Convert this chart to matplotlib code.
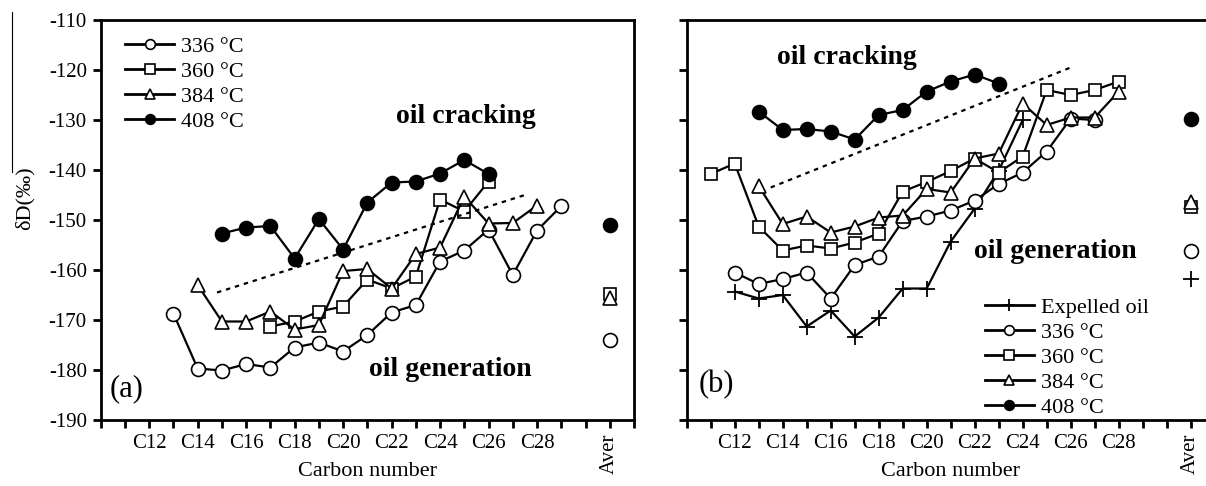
import matplotlib.pyplot as plt
from matplotlib.lines import Line2D
import numpy as np

plt.rcParams['font.family'] = ['Liberation Serif', 'DejaVu Serif']
plt.rcParams['axes.unicode_minus'] = False

# (a) pyrolysis residues
a_c336 = np.arange(13, 30)
a_v336 = [-168.7, -179.7, -180.1, -178.8, -179.5, -175.5, -174.5, -176.3, -173.0,
          -168.5, -167.0, -158.3, -156.1, -151.9, -161.0, -152.1, -147.2]
a_c360 = np.arange(17, 27)
a_v360 = [-171.3, -170.3, -168.3, -167.3, -161.9, -163.7, -161.3, -145.9, -148.3, -142.3]
a_c384 = np.arange(14, 29)
a_v384 = [-163.0, -170.3, -170.3, -168.3, -171.9, -171.0, -160.2, -159.8, -163.7,
          -156.8, -155.5, -145.3, -150.7, -150.6, -147.1]
a_c408 = np.arange(15, 27)
a_v408 = [-152.7, -151.5, -151.2, -157.7, -149.8, -155.9, -146.5, -142.5, -142.3,
          -140.7, -138.0, -140.8]
a_aver = {"336": -174.0, "360": -164.7, "384": -165.6, "408": -151.0}
a_trend_c = [14.8, 27.5]
a_trend_v = [-164.5, -145.0]

# (b) expelled oil
b_cexp = np.arange(12, 25)
b_vexp = [-164.3, -165.7, -165.0, -171.3, -168.1, -173.3, -169.5, -163.7, -163.7,
          -154.3, -147.7, -140.1, -130.0]
b_c336 = np.arange(12, 28)
b_v336 = [-160.5, -162.8, -161.8, -160.5, -165.7, -159.0, -157.3, -150.2, -149.3,
          -148.1, -146.1, -142.8, -140.5, -136.3, -129.7, -130.0]
b_c360 = np.arange(11, 29)
b_v360 = [-140.8, -138.7, -151.3, -156.1, -155.1, -155.7, -154.5, -152.7, -144.3,
          -142.4, -140.2, -137.7, -140.5, -137.3, -124.0, -125.0, -124.0, -122.3]
b_c384 = np.arange(13, 29)
b_v384 = [-143.2, -150.8, -149.3, -152.5, -151.3, -149.5, -149.1, -143.8, -144.5,
          -137.7, -136.7, -126.7, -131.0, -129.5, -129.5, -124.3]
b_c408 = np.arange(13, 24)
b_v408 = [-128.3, -132.0, -131.8, -132.3, -133.9, -129.0, -128.0, -124.3, -122.3,
          -120.9, -122.7]
b_aver = {"exp": -161.8, "336": -156.2, "360": -147.4, "384": -146.4, "408": -129.8}
b_trend_c = [13.5, 26.0]
b_trend_v = [-143.5, -119.5]

AVER_X = 31
tick_labels = {c: f"C{c}" for c in range(12, 29, 2)}
tick_labels[AVER_X] = "Aver"

styles = {
    "exp": dict(marker="+", ms=11, mew=1.3, mfc="black"),
    "336": dict(marker="o", ms=10, mew=1.2, mfc="white"),
    "360": dict(marker="s", ms=9, mew=1.2, mfc="white"),
    "384": dict(marker="^", ms=10, mew=1.2, mfc="white"),
    "408": dict(marker="o", ms=10, mew=1.2, mfc="black"),
}
names = {"exp": "Expelled oil", "336": "336 °C", "360": "360 °C",
         "384": "384 °C", "408": "408 °C"}

fig = plt.figure(figsize=(12.06, 4.86), dpi=100)
ax1 = fig.add_axes([100.7 / 1206, 66 / 486, 533.3 / 1206, 400 / 486])
ax2 = fig.add_axes([686.7 / 1206, 66 / 486, 528 / 1206, 400 / 486])


def setup(ax, show_y):
    ax.set_xlim(10, 32)
    ax.set_ylim(-190, -110)
    ax.set_xticks(np.arange(10, 33))
    ax.set_xticklabels([tick_labels.get(c, "") for c in range(10, 33)], fontsize=15)
    for lab in ax.get_xticklabels():
        if lab.get_text() == "Aver":
            lab.set_rotation(90)
            lab.set_va("top")
    ax.set_yticks(np.arange(-190, -109, 10))
    if show_y:
        ax.set_yticklabels([str(v) for v in range(-190, -109, 10)], fontsize=15)
    else:
        ax.set_yticklabels([])
    ax.tick_params(direction="out", length=6, width=2, pad=4)
    for s in ax.spines.values():
        s.set_linewidth(2)
    ax.set_xlabel("Carbon number", fontsize=16)
    ax.xaxis.set_label_coords(0.5, -0.105)


def series(ax, key, c, v, aver):
    ax.plot(c, v, color="black", lw=1.6, mec="black", **styles[key])
    ax.plot([AVER_X], [aver], color="black", ls="none", mec="black", **styles[key])


setup(ax1, True)
setup(ax2, False)

series(ax1, "336", a_c336, a_v336, a_aver["336"])
series(ax1, "360", a_c360, a_v360, a_aver["360"])
series(ax1, "384", a_c384, a_v384, a_aver["384"])
series(ax1, "408", a_c408, a_v408, a_aver["408"])
ax1.plot(a_trend_c, a_trend_v, color="black", lw=1.6, ls=(0, (2, 2.2)))

series(ax2, "exp", b_cexp, b_vexp, b_aver["exp"])
series(ax2, "336", b_c336, b_v336, b_aver["336"])
series(ax2, "360", b_c360, b_v360, b_aver["360"])
series(ax2, "384", b_c384, b_v384, b_aver["384"])
series(ax2, "408", b_c408, b_v408, b_aver["408"])
ax2.plot(b_trend_c, b_trend_v, color="black", lw=1.6, ls=(0, (2, 2.2)))

# annotations
bold = dict(fontsize=20, fontweight="bold", ha="center", va="center")
ax1.text(25.06, -129.3, "oil cracking", **bold)
ax1.text(24.44, -179.9, "oil generation", **bold)
ax1.text(11.07, -183.7, "(a)", fontsize=22, ha="center", va="center")
ax2.text(16.68, -117.4, "oil cracking", **bold)
ax2.text(25.35, -156.3, "oil generation", **bold)
ax2.text(11.25, -183.0, "(b)", fontsize=22, ha="center", va="center")


def handles(keys):
    out = []
    for k in keys:
        st = dict(styles[k])
        st["ms"] = 7 if k != "exp" else 9
        out.append(Line2D([], [], color="black", lw=2, mec="black", label=names[k], **st))
    return out


leg_kw = dict(frameon=False, fontsize=16, handlelength=2.2, handletextpad=0.3,
              labelspacing=0.2, borderpad=0, borderaxespad=0)
ax1.legend(handles=handles(["336", "360", "384", "408"]), loc="upper left",
           bbox_to_anchor=(0.046, 0.96), **leg_kw)
ax2.legend(handles=handles(["exp", "336", "360", "384", "408"]), loc="lower left",
           bbox_to_anchor=(0.565, 0.005), **leg_kw)

fig.text(25 / 1206, 1 - 198 / 486, "δD(‰)", rotation=90, fontsize=16,
         ha="center", va="center")
fig.add_artist(Line2D([12 / 1206, 12 / 1206], [1 - 12 / 486, 1 - 172 / 486],
                      color="black", lw=0.8))

fig.savefig("out.png", dpi=100)
